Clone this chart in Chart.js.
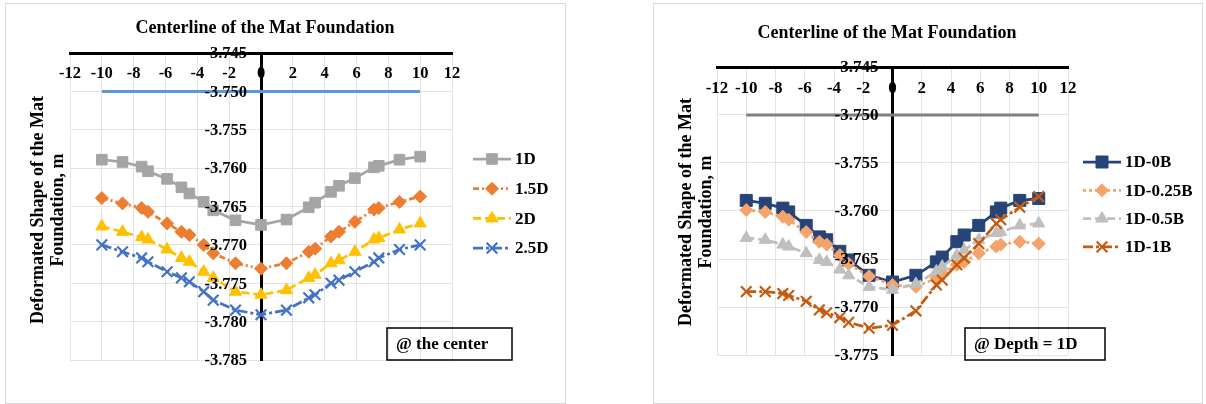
<!DOCTYPE html>
<html>
<head>
<meta charset="utf-8">
<title>Centerline of the Mat Foundation</title>
<script src="https://cdn.jsdelivr.net/npm/chart.js@4.4.1/dist/chart.umd.min.js"></script>
<style>
  html, body { margin: 0; padding: 0; background: #fff; }
  body { width: 1206px; height: 404px; position: relative; overflow: hidden; }
  .frame { position: absolute; border: 1px solid #d9d9d9; background: #fff; }
  #leftFrame { left: 5px; top: 3px; width: 559px; height: 399px; }
  #rightFrame { left: 653px; top: 3px; width: 548px; height: 399px; }
  canvas { display: block; }
</style>
</head>
<body>
<div class="frame" id="leftFrame"><canvas id="centerChart" width="559" height="399"></canvas></div>
<div class="frame" id="rightFrame"><canvas id="depthChart" width="548" height="399"></canvas></div>

<script>
// x positions along the centerline (m), shared by every series
const stations = [-10, -8.7, -7.5, -7.1, -5.9, -5.0, -4.5, -3.6, -3.0, -1.6, 0,
                  1.6, 3.0, 3.4, 4.4, 4.9, 5.9, 7.1, 7.4, 8.7, 10];

// undeformed level of the mat
const baseX = [-10, 10];
const baseY = [-3.750, -3.750];

// left chart: @ the center
const centerLabels = ['1D', '1.5D', '2D', '2.5D'];
const center1D  = [-3.7589, -3.7592, -3.7598, -3.7604, -3.7614, -3.7625, -3.7633, -3.7644, -3.7655, -3.7668, -3.7674,
                   -3.7667, -3.7651, -3.7645, -3.7631, -3.7623, -3.7613, -3.7599, -3.7597, -3.7589, -3.7585];
const center15D = [-3.7639, -3.7646, -3.7652, -3.7657, -3.7672, -3.7683, -3.7687, -3.7700, -3.7711, -3.7724, -3.7731,
                   -3.7724, -3.7709, -3.7705, -3.7689, -3.7683, -3.7670, -3.7654, -3.7652, -3.7644, -3.7637];
const center2D  = [-3.7676, -3.7683, -3.7690, -3.7693, -3.7706, -3.7717, -3.7722, -3.7735, -3.7743, -3.7761, -3.7765,
                   -3.7759, -3.7743, -3.7739, -3.7724, -3.7720, -3.7709, -3.7693, -3.7691, -3.7680, -3.7672];
const center25D = [-3.7700, -3.7709, -3.7717, -3.7722, -3.7735, -3.7743, -3.7748, -3.7761, -3.7772, -3.7785, -3.7791,
                   -3.7785, -3.7769, -3.7765, -3.7750, -3.7746, -3.7735, -3.7722, -3.7717, -3.7706, -3.7700];

// right chart: @ depth = 1D
const depthLabels = ['1D-0B', '1D-0.25B', '1D-0.5B', '1D-1B'];
const depth0B   = [-3.7589, -3.7592, -3.7597, -3.7601, -3.7615, -3.7627, -3.7630, -3.7642, -3.7651, -3.7667, -3.7674,
                   -3.7667, -3.7653, -3.7648, -3.7632, -3.7625, -3.7615, -3.7601, -3.7597, -3.7589, -3.7587];
const depth025B = [-3.7599, -3.7601, -3.7606, -3.7609, -3.7622, -3.7632, -3.7635, -3.7646, -3.7655, -3.7668, -3.7677,
                   -3.7679, -3.7670, -3.7665, -3.7656, -3.7653, -3.7644, -3.7637, -3.7635, -3.7632, -3.7634];
const depth05B  = [-3.7628, -3.7630, -3.7635, -3.7637, -3.7644, -3.7651, -3.7653, -3.7661, -3.7667, -3.7679, -3.7682,
                   -3.7676, -3.7663, -3.7658, -3.7646, -3.7641, -3.7630, -3.7623, -3.7622, -3.7615, -3.7613];
const depth1B   = [-3.7684, -3.7684, -3.7686, -3.7688, -3.7694, -3.7703, -3.7706, -3.7711, -3.7716, -3.7722, -3.7719,
                   -3.7704, -3.7677, -3.7672, -3.7656, -3.7649, -3.7634, -3.7613, -3.7609, -3.7596, -3.7585];

// tick labels
const xTicks = [-12, -10, -8, -6, -4, -2, 0, 2, 4, 6, 8, 10, 12];
const yTicksCenter = [-3.745, -3.750, -3.755, -3.760, -3.765, -3.770, -3.775, -3.780, -3.785];
const yTicksDepth  = [-3.745, -3.750, -3.755, -3.760, -3.765, -3.770, -3.775];

const SERIF = '"Liberation Serif", "Times New Roman", serif';

// later series sit on top, like in Excel
function series(label, ys, order, style) {
    return Object.assign({
        label: label,
        order: order,
        data: stations.map((x, i) => ({ x: x, y: ys[i] })),
        showLine: true,
        tension: 0,
        fill: false,
        borderWidth: 2.75
    }, style);
}

function baseline(color) {
    return {
        label: 'base',
        noLegend: true,
        order: 10,
        data: baseX.map((x, i) => ({ x: x, y: baseY[i] })),
        showLine: true,
        borderColor: color,
        borderWidth: 3,
        pointRadius: 0
    };
}

// titles, tick labels, legend and the note box drawn over the plot
function decorPlugin(o) {
    return {
        id: 'decor',
        afterDatasetsDraw(chart) {
            const ctx = chart.ctx;
            const xs = chart.scales.x, ys = chart.scales.y;
            const axisX = xs.getPixelForValue(0);
            const axisY = ys.getPixelForValue(ys.max);
            ctx.save();
            ctx.fillStyle = '#000';

            // axis tick labels
            ctx.font = 'bold ' + o.tickSize + 'px ' + SERIF;
            ctx.textAlign = 'center';
            ctx.textBaseline = 'middle';
            xTicks.forEach(v => ctx.fillText(String(v), xs.getPixelForValue(v), axisY + o.xLabelGap));
            ctx.textAlign = 'right';
            o.yTicks.forEach(v => ctx.fillText(v.toFixed(3), axisX - 14, ys.getPixelForValue(v) + 1));

            // chart title
            ctx.textAlign = 'center';
            ctx.font = 'bold 18px ' + SERIF;
            ctx.fillText('Centerline of the Mat Foundation', o.titleX, o.titleY);

            // vertical axis title, two lines
            ctx.save();
            ctx.translate(o.yTitleX, o.yTitleY);
            ctx.rotate(-Math.PI / 2);
            ctx.font = 'bold 18px ' + SERIF;
            ctx.fillText('Deformated Shape of the Mat', 0, 0);
            ctx.fillText('Foundation, m', 0, 20);
            ctx.restore();

            // legend: line sample with marker, Excel style
            ctx.font = 'bold 17px ' + SERIF;
            ctx.textAlign = 'left';
            let row = 0;
            chart.data.datasets.forEach(ds => {
                if (ds.noLegend) return;
                const y = o.legendY + row * o.legendStep;
                ctx.save();
                ctx.strokeStyle = ds.borderColor;
                ctx.lineWidth = ds.borderWidth;
                ctx.setLineDash(ds.borderDash || []);
                ctx.beginPath();
                ctx.moveTo(o.legendX, y);
                ctx.lineTo(o.legendX + 38, y);
                ctx.stroke();
                ctx.setLineDash([]);
                ctx.fillStyle = ds.pointBackgroundColor;
                ctx.strokeStyle = ds.pointBorderColor;
                ctx.lineWidth = ds.pointBorderWidth;
                Chart.helpers.drawPoint(ctx, {
                    pointStyle: ds.pointStyle,
                    radius: ds.pointRadius,
                    rotation: 0,
                    borderWidth: ds.pointBorderWidth
                }, o.legendX + 19, y);
                ctx.restore();
                ctx.fillText(ds.label, o.legendX + 42, y + 1);
                row++;
            });

            // note box
            ctx.lineWidth = 1.5;
            ctx.strokeStyle = '#000';
            ctx.strokeRect(o.box[0], o.box[1], o.box[2], o.box[3]);
            ctx.font = 'bold 17px ' + SERIF;
            ctx.fillText(o.note, o.box[0] + 9, o.box[1] + o.box[3] / 2 + 1);
            ctx.restore();
        }
    };
}

function axisOptions(yMin, yMax, padding) {
    return {
        responsive: false,
        animation: false,
        layout: { padding: padding },
        plugins: { legend: { display: false }, tooltip: { enabled: false } },
        scales: {
            x: {
                type: 'linear', min: -12, max: 12,
                position: { y: yMax },
                ticks: { display: false, stepSize: 2 },
                grid: { color: '#e4e4e4', drawTicks: false },
                border: { color: '#000', width: 3 }
            },
            y: {
                type: 'linear', min: yMin, max: yMax,
                position: { x: 0 },
                ticks: { display: false, stepSize: 0.005 },
                grid: { color: '#e4e4e4', drawTicks: false },
                border: { color: '#000', width: 3 }
            }
        }
    };
}

// left chart
new Chart(document.getElementById('centerChart'), {
    type: 'scatter',
    data: {
        datasets: [
            baseline('#5B9BD5'),
            series(centerLabels[0], center1D, 4, {
                borderColor: '#A5A5A5', pointStyle: 'rect', pointRadius: 7.5,
                pointBackgroundColor: '#A5A5A5', pointBorderColor: '#A5A5A5', pointBorderWidth: 1
            }),
            series(centerLabels[1], center15D, 3, {
                borderColor: '#ED7D31', borderDash: [6, 3, 2, 3, 2, 3], pointStyle: 'rectRot', pointRadius: 6.5,
                pointBackgroundColor: '#ED7D31', pointBorderColor: '#ED7D31', pointBorderWidth: 1
            }),
            series(centerLabels[2], center2D, 2, {
                borderColor: '#FFC000', borderDash: [8, 4], pointStyle: 'triangle', pointRadius: 7,
                pointBackgroundColor: '#FFC000', pointBorderColor: '#FFC000', pointBorderWidth: 1
            }),
            series(centerLabels[3], center25D, 1, {
                borderColor: '#4472C4', borderDash: [10, 3, 3, 3], pointStyle: 'crossRot', pointRadius: 7.5,
                pointBackgroundColor: '#4472C4', pointBorderColor: '#4472C4', pointBorderWidth: 2.2
            })
        ]
    },
    options: axisOptions(-3.785, -3.745, { left: 64, top: 49, right: 113, bottom: 43 }),
    plugins: [decorPlugin({
        yTicks: yTicksCenter, tickSize: 16.5, xLabelGap: 21,
        titleX: 259, titleY: 24, yTitleX: 32, yTitleY: 206,
        legendX: 467, legendY: 155, legendStep: 29.7,
        box: [381, 324, 125, 32], note: '@ the center'
    })]
});

// right chart
new Chart(document.getElementById('depthChart'), {
    type: 'scatter',
    data: {
        datasets: [
            baseline('#7F7F7F'),
            series(depthLabels[0], depth0B, 4, {
                borderColor: '#264478', pointStyle: 'rect', pointRadius: 8.5,
                pointBackgroundColor: '#264478', pointBorderColor: '#264478', pointBorderWidth: 1
            }),
            series(depthLabels[1], depth025B, 3, {
                borderColor: '#F4A46A', borderDash: [3, 3], pointStyle: 'rectRot', pointRadius: 6.5,
                pointBackgroundColor: '#F4A46A', pointBorderColor: '#F4A46A', pointBorderWidth: 1
            }),
            series(depthLabels[2], depth05B, 2, {
                borderColor: '#BFBFBF', borderDash: [8, 4], pointStyle: 'triangle', pointRadius: 7,
                pointBackgroundColor: '#BFBFBF', pointBorderColor: '#BFBFBF', pointBorderWidth: 1
            }),
            series(depthLabels[3], depth1B, 1, {
                borderColor: '#C55A11', borderDash: [10, 3, 3, 3], pointStyle: 'crossRot', pointRadius: 7.5,
                pointBackgroundColor: '#C55A11', pointBorderColor: '#C55A11', pointBorderWidth: 2.2
            })
        ]
    },
    options: axisOptions(-3.775, -3.745, { left: 63, top: 63, right: 134, bottom: 48 }),
    plugins: [decorPlugin({
        yTicks: yTicksDepth, tickSize: 17, xLabelGap: 22,
        titleX: 233, titleY: 29, yTitleX: 32, yTitleY: 208,
        legendX: 429, legendY: 158, legendStep: 28.3,
        box: [311, 324, 140, 32], note: '@ Depth = 1D'
    })]
});
</script>
</body>
</html>
